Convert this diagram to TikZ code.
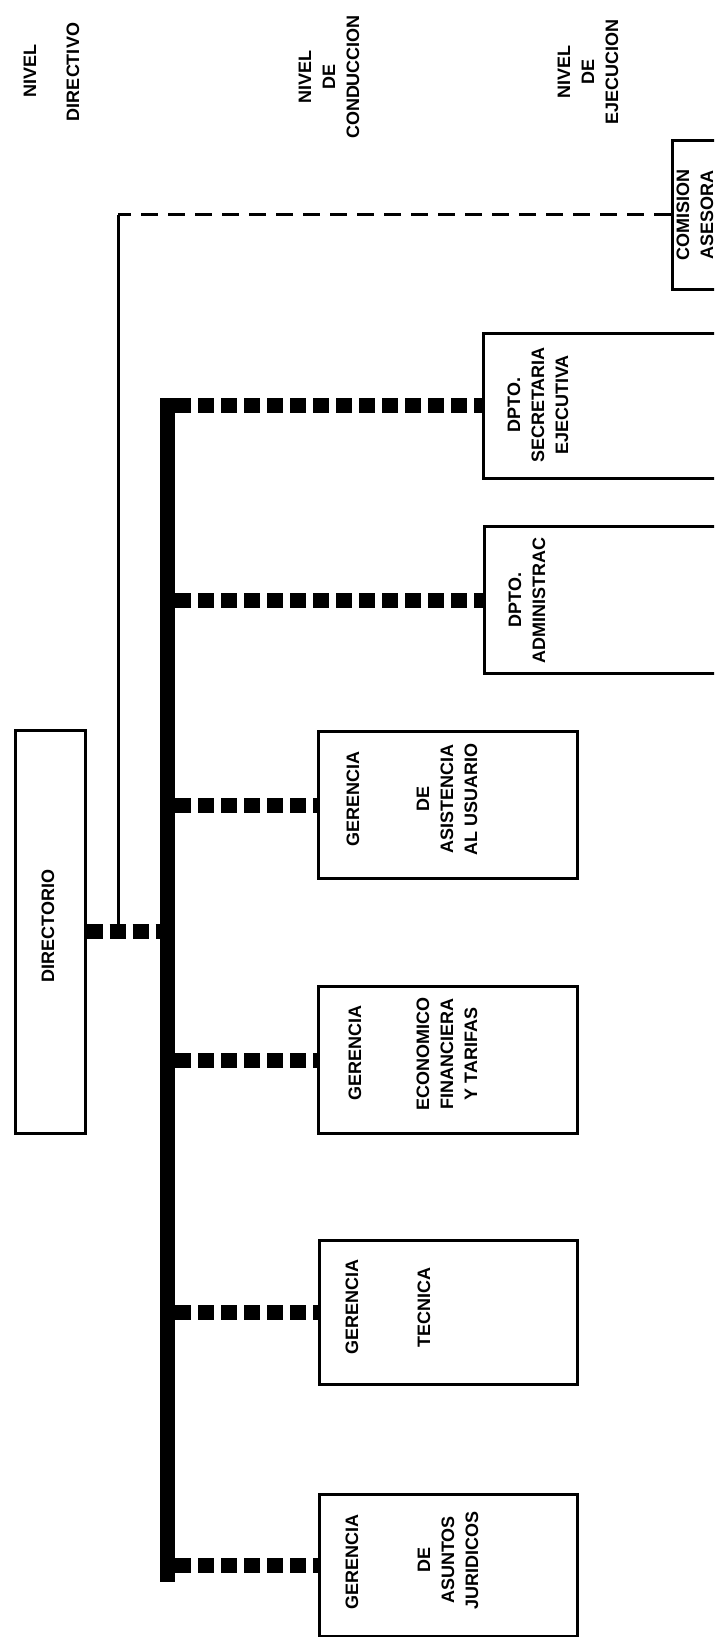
\documentclass[tikz,border=0pt]{standalone}
\usepackage{fontspec}
\setmainfont{Liberation Sans}
\begin{document}
\begin{tikzpicture}[x=0.5pt,y=-0.5pt,
  boxst/.style={draw=black,line width=1.5pt,inner sep=0pt},
  lbl/.style={rotate=90,font=\bfseries\fontsize{9}{12}\selectfont,align=center,inner sep=1pt},
  sq/.style={line width=7.5pt,dash pattern=on 8pt off 3.5pt},
  busline/.style={line width=7.5pt},
  thinline/.style={line width=1.5pt},
  dashline/.style={line width=1.5pt,dash pattern=on 8.5pt off 5pt}]
\clip (0,0) rectangle (714,1637);
% level titles
\node[lbl] (n1a) at (30,71) {NIVEL};
\node[lbl] (n1b) at (73,72) {DIRECTIVO};
\node[lbl] (n2) at (329,77) {NIVEL\\DE\\CONDUCCION};
\node[lbl] (n3) at (588,72) {NIVEL\\DE\\EJECUCION};
% boxes
\node[boxst,minimum width=35pt,minimum height=201.5pt] (dir) at (50,931.5) {};
\node[boxst,minimum width=46pt,minimum height=74.5pt] (com) at (718,215) {};
\node[boxst,minimum width=140pt,minimum height=72.5pt] (secr) at (623,405.5) {};
\node[boxst,minimum width=140pt,minimum height=73.5pt] (adm) at (624,600) {};
\node[boxst,minimum width=129.5pt,minimum height=73.5pt] (asis) at (447.5,805) {};
\node[boxst,minimum width=129.5pt,minimum height=73.5pt] (eco) at (447.5,1060) {};
\node[boxst,minimum width=129pt,minimum height=72pt] (tec) at (448,1312) {};
\node[boxst,minimum width=129pt,minimum height=71pt] (jur) at (448,1565) {};
% box texts
\node[lbl] (dirt) at (48,926) {DIRECTORIO};
\node[lbl] (comt) at (695,215) {\fontsize{9}{10}\selectfont COMISION\\ASESORA};
\node[lbl] (secrt) at (538,405) {DPTO.\\SECRETARIA\\EJECUTIVA};
\node[lbl] (admt) at (527,600) {DPTO.\\ADMINISTRAC};
\node[lbl] (asisa) at (353,799) {GERENCIA};
\node[lbl] (asisb) at (447,799) {DE\\ASISTENCIA\\AL USUARIO};
\node[lbl] (ecoa) at (355,1053) {GERENCIA};
\node[lbl] (ecob) at (447,1054) {ECONOMICO\\FINANCIERA\\Y TARIFAS};
\node[lbl] (teca) at (352,1307) {GERENCIA};
\node[lbl] (tecb) at (424,1307) {TECNICA};
\node[lbl] (jura) at (352,1562) {GERENCIA};
\node[lbl] (jurb) at (448,1560) {DE\\ASUNTOS\\JURIDICOS};
% bus
\coordinate (busT) at (167,398);
\coordinate (busB) at (167,1582);
\coordinate (busR) at (175,398);
\draw[busline] (busT) -- (busB);
% connectors
\draw[sq] (dir.east) -- (dir.east -| busT);
\draw[sq] (busR |- secr.west) -- (secr.west);
\draw[sq] (busR |- adm.west) -- (adm.west);
\draw[sq] (busR |- asis.west) -- (asis.west);
\draw[sq] (busR |- eco.west) -- (eco.west);
\draw[sq] (busR |- tec.west) -- (tec.west);
\draw[sq] (busR |- jur.west) -- (jur.west);
% advisory link
\coordinate (jn) at (118,924);
\draw[dashline] (com.west) -- (com.west -| jn);
\draw[thinline] (com.west -| jn) -- (jn);
\end{tikzpicture}
\end{document}
